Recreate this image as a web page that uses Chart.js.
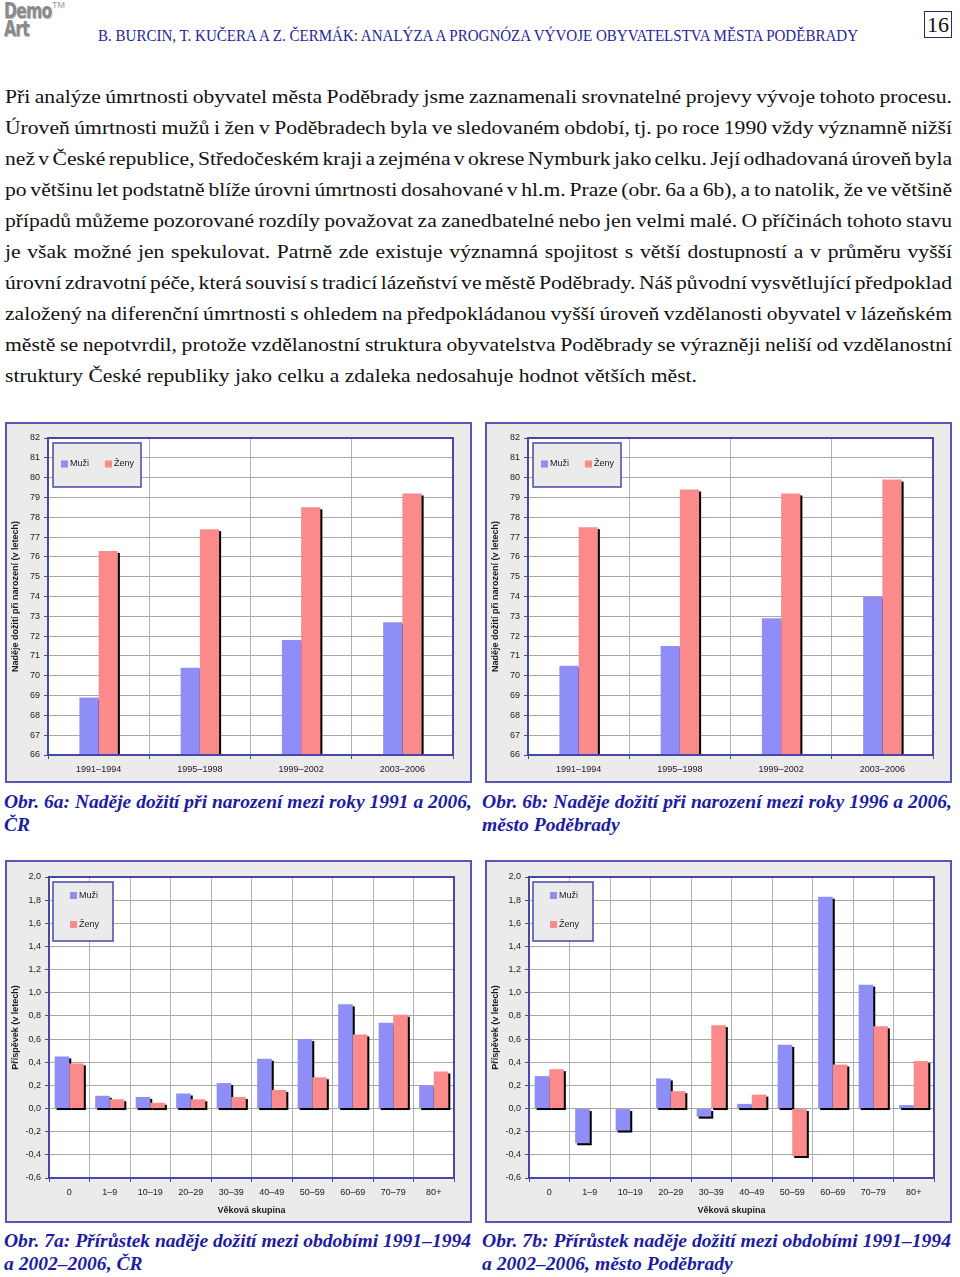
<!DOCTYPE html>
<html>
<head>
<meta charset="utf-8">
<script src="https://cdn.jsdelivr.net/npm/chart.js@4.4.0/dist/chart.umd.min.js"></script>
<style>
  body { margin: 0; width: 960px; height: 1277px; background: #fff; position: relative; overflow: hidden; font-family: "Liberation Serif", serif; }
  .abs { position: absolute; }
  .logo { left: 4px; top: 2px; font: bold 21px "DejaVu Sans", sans-serif; line-height: 18px; color: #8a8a8a; letter-spacing: -1px; text-shadow: 1px 1px 0 #bbb; transform: scaleX(0.74); transform-origin: left top; }
  .tm { left: 52px; top: 0px; font: 9px "Liberation Sans", sans-serif; color: #999; }
  .head { left: 98px; top: 27px; font-size: 16px; line-height: 18px; color: #25259c; white-space: nowrap; transform-origin: left center; }
  .pageno { left: 924px; top: 11px; width: 26px; height: 25px; border: 1px solid #2c2c6c; font-size: 22px; line-height: 25px; text-align: center; color: #111; }
  .para { left: 5px; top: 82px; font-size: 18px; line-height: 31px; color: #111; transform-origin: left top; }
  .ln { white-space: nowrap; height: 31px; }
  .cap { font-weight: bold; font-style: italic; font-size: 19px; line-height: 23px; color: #1c1ca4; white-space: nowrap; transform-origin: left top; }
  .box { position: absolute; border: 2px solid #5858b4; background: #ebebeb; }
  .box canvas { display: block; }
</style>
</head>
<body>
<div class="abs logo">Demo<br>Art</div>
<div class="abs tm">TM</div>
<div class="abs head" id="head">B. BURCIN, T. KUČERA A Z. ČERMÁK: ANALÝZA A PROGNÓZA VÝVOJE OBYVATELSTVA MĚSTA PODĚBRADY</div>
<div class="abs pageno">16</div>

<div class="abs para" id="para">
  <div class="ln"><span>Při analýze úmrtnosti obyvatel města Poděbrady jsme zaznamenali srovnatelné projevy vývoje tohoto procesu.</span></div>
  <div class="ln"><span>Úroveň úmrtnosti mužů i žen v Poděbradech byla ve sledovaném období, tj. po roce 1990 vždy významně nižší</span></div>
  <div class="ln"><span>než v České republice, Středočeském kraji a zejména v okrese Nymburk jako celku. Její odhadovaná úroveň byla</span></div>
  <div class="ln"><span>po většinu let podstatně blíže úrovni úmrtnosti dosahované v hl.m. Praze (obr. 6a a 6b), a to natolik, že ve většině</span></div>
  <div class="ln"><span>případů můžeme pozorované rozdíly považovat za zanedbatelné nebo jen velmi malé. O příčinách tohoto stavu</span></div>
  <div class="ln"><span>je však možné jen spekulovat. Patrně zde existuje významná spojitost s větší dostupností a v průměru vyšší</span></div>
  <div class="ln"><span>úrovní zdravotní péče, která souvisí s tradicí lázeňství ve městě Poděbrady. Náš původní vysvětlující předpoklad</span></div>
  <div class="ln"><span>založený na diferenční úmrtnosti s ohledem na předpokládanou vyšší úroveň vzdělanosti obyvatel v lázeňském</span></div>
  <div class="ln"><span>městě se nepotvrdil, protože vzdělanostní struktura obyvatelstva Poděbrady se výrazněji neliší od vzdělanostní</span></div>
  <div class="ln last"><span>struktury České republiky jako celku a zdaleka nedosahuje hodnot větších měst.</span></div>
</div>

<div class="box" style="left:5px;top:422px;width:463px;height:357px"><canvas id="c6a" width="463" height="357"></canvas></div>
<div class="box" style="left:485px;top:422px;width:463px;height:357px"><canvas id="c6b" width="463" height="357"></canvas></div>
<div class="box" style="left:5px;top:860px;width:463px;height:359px"><canvas id="c7a" width="463" height="359"></canvas></div>
<div class="box" style="left:485px;top:860px;width:463px;height:359px"><canvas id="c7b" width="463" height="359"></canvas></div>

<div class="abs cap" style="left:4px;top:790px" data-w="468"><span>Obr. 6a: Naděje dožití při narození mezi roky 1991 a 2006,</span><br><span>ČR</span></div>
<div class="abs cap" style="left:482px;top:790px" data-w="470"><span>Obr. 6b: Naděje dožití při narození mezi roky 1996 a 2006,</span><br><span>město Poděbrady</span></div>
<div class="abs cap" style="left:4px;top:1229px" data-w="467"><span>Obr. 7a: Přírůstek naděje dožití mezi obdobími 1991–1994</span><br><span>a 2002–2006, ČR</span></div>
<div class="abs cap" style="left:482px;top:1229px" data-w="469"><span>Obr. 7b: Přírůstek naděje dožití mezi obdobími 1991–1994</span><br><span>a 2002–2006, město Poděbrady</span></div>

<script>
// values
const periods = ['1991–1994', '1995–1998', '1999–2002', '2003–2006'];
const crMuzi = [68.9, 70.4, 71.8, 72.7];
const crZeny = [76.3, 77.4, 78.5, 79.2];
const pdMuzi = [70.5, 71.5, 72.9, 74.0];
const pdZeny = [77.5, 79.4, 79.2, 79.9];

const ageGroups = ['0', '1–9', '10–19', '20–29', '30–39', '40–49', '50–59', '60–69', '70–79', '80+'];
const crPrirMuzi = [0.45, 0.11, 0.10, 0.13, 0.22, 0.43, 0.60, 0.90, 0.74, 0.20];
const crPrirZeny = [0.39, 0.08, 0.05, 0.08, 0.10, 0.16, 0.27, 0.64, 0.81, 0.32];
const pdPrirMuzi = [0.28, -0.30, -0.19, 0.26, -0.07, 0.04, 0.55, 1.83, 1.07, 0.03];
const pdPrirZeny = [0.34, 0, 0, 0.15, 0.72, 0.12, -0.41, 0.38, 0.71, 0.41];

const MUZI = '#8e8ef6';
const ZENY = '#fb8a8a';
const BLUE = '#4848a8';
const FONT = '"Liberation Sans", Arial, sans-serif';

// grey frame, white plot, bar drop shadows, plot border and the boxed legend
const frame = {
  id: 'frame',
  beforeDraw(chart) {
    const { ctx, chartArea: a, width, height } = chart;
    ctx.save();
    ctx.fillStyle = '#ebebeb';
    ctx.fillRect(0, 0, width, height);
    ctx.fillStyle = '#fff';
    ctx.fillRect(a.left, a.top, a.right - a.left, a.bottom - a.top);
    ctx.restore();
  },
  beforeDatasetsDraw(chart) {
    const { ctx, chartArea: a } = chart;
    ctx.save();
    ctx.beginPath();
    ctx.rect(a.left, a.top, a.right - a.left, a.bottom - a.top);
    ctx.clip();
    ctx.fillStyle = '#000';
    chart.data.datasets.forEach((ds, i) => {
      chart.getDatasetMeta(i).data.forEach(el => {
        const p = el.getProps(['x', 'y', 'base', 'width'], true);
        const top = Math.min(p.y, p.base), h = Math.abs(p.base - p.y);
        if (h > 0.5) ctx.fillRect(p.x - p.width / 2 + 2, top + 2, p.width, h);
      });
    });
    ctx.restore();
  },
  afterDatasetsDraw(chart, args, opts) {
    const { ctx, chartArea: a } = chart;
    ctx.save();
    ctx.strokeStyle = BLUE;
    ctx.lineWidth = 2;
    ctx.strokeRect(a.left, a.top, a.right - a.left, a.bottom - a.top);
    const lg = opts.box;
    if (lg) {
      const x0 = a.left + lg.x, y0 = a.top + lg.y;
      ctx.fillStyle = '#ebebeb';
      ctx.fillRect(x0, y0, lg.w, lg.h);
      ctx.lineWidth = 1.5;
      ctx.strokeRect(x0, y0, lg.w, lg.h);
      ctx.font = '9px ' + FONT;
      ctx.textBaseline = 'middle';
      chart.data.datasets.forEach((ds, i) => {
        const [dx, dy] = lg.items[i];
        ctx.fillStyle = ds.backgroundColor;
        ctx.fillRect(x0 + dx, y0 + dy - 3.5, 7, 7);
        ctx.fillStyle = '#1a1a1a';
        ctx.fillText(ds.label, x0 + dx + 9, y0 + dy);
      });
    }
    ctx.restore();
  }
};

function barChart(id, labels, muzi, zeny, cfg) {
  return new Chart(document.getElementById(id), {
    type: 'bar',
    data: {
      labels: labels,
      datasets: [
        { label: 'Muži', data: muzi, backgroundColor: MUZI, borderWidth: 0, categoryPercentage: cfg.cat, barPercentage: 1 },
        { label: 'Ženy', data: zeny, backgroundColor: ZENY, borderWidth: 0, categoryPercentage: cfg.cat, barPercentage: 1 }
      ]
    },
    options: {
      responsive: false,
      animation: false,
      events: [],
      layout: { padding: { top: cfg.top, right: cfg.right, left: 0, bottom: 0 } },
      plugins: {
        legend: { display: false },
        tooltip: { enabled: false },
        frame: { box: cfg.legend }
      },
      scales: {
        x: {
          grid: { offset: true, color: '#b2b2b2', tickColor: BLUE, tickLength: 4 },
          border: { display: false },
          ticks: { color: '#1a1a1a', font: { family: FONT, size: 9 }, padding: 5, maxRotation: 0, autoSkip: false },
          title: cfg.xTitle
            ? { display: true, text: cfg.xTitle, color: '#1a1a1a', font: { family: FONT, size: 9, weight: 'bold' }, padding: { top: 0, bottom: 5.5 } }
            : { display: false },
          afterFit(s) { s.height = cfg.xh; }
        },
        y: {
          min: cfg.min,
          max: cfg.max,
          grid: { color: '#a8a8a8', tickColor: BLUE, tickLength: 4 },
          border: { display: false },
          ticks: { stepSize: cfg.step, color: '#1a1a1a', font: { family: FONT, size: 9 }, padding: 4, autoSkip: false, callback: cfg.fmt },
          title: { display: true, text: cfg.yTitle, color: '#1a1a1a', font: { family: FONT, size: 9, weight: 'bold' }, padding: { top: 3, bottom: 0 } },
          afterFit(s) { s.width = cfg.yw; }
        }
      }
    },
    plugins: [frame]
  });
}

const cfg6 = {
  cat: 0.38, top: 14, right: 17, yw: 41, xh: 26,
  min: 66, max: 82, step: 1, fmt: v => String(v),
  yTitle: 'Naděje dožití při narození (v letech)',
  legend: { x: 5, y: 5, w: 88, h: 44, items: [[8, 21], [52, 21]] }
};
const cfg7 = {
  cat: 0.72, top: 15, right: 16, yw: 42, xh: 43,
  min: -0.6, max: 2.0, step: 0.2, fmt: v => v.toFixed(1).replace('.', ','),
  yTitle: 'Příspěvek (v letech)', xTitle: 'Věková skupina',
  legend: { x: 4, y: 5, w: 60, h: 59, items: [[17, 13.5], [17, 42.5]] }
};

barChart('c6a', periods, crMuzi, crZeny, cfg6);
barChart('c6b', periods, pdMuzi, pdZeny, cfg6);
barChart('c7a', ageGroups, crPrirMuzi, crPrirZeny, cfg7);
barChart('c7b', ageGroups, pdPrirMuzi, pdPrirZeny, cfg7);

// the scanned text is stretched sideways: scale the block so the last line
// is as long as in the page, then justify the other lines to the column
const para = document.getElementById('para');
const spans = [...para.querySelectorAll('.ln span')];
const widths = spans.map(sp => sp.getBoundingClientRect().width);
const sx = 692 / widths[widths.length - 1];
const inner = 947 / sx;
spans.forEach((sp, i) => {
  if (i === spans.length - 1) return;
  const n = (sp.textContent.match(/ /g) || []).length;
  sp.style.wordSpacing = ((inner - widths[i]) / n) + 'px';
});
para.style.width = inner + 'px';
para.style.transform = 'scaleX(' + sx + ')';

// condensed caption / header fonts
document.querySelectorAll('.cap').forEach(c => {
  const w = c.firstElementChild.getBoundingClientRect().width;
  c.style.transform = 'scaleX(' + (Number(c.dataset.w) / w) + ')';
});
const head = document.getElementById('head');
head.style.transform = 'scaleX(' + (760 / head.getBoundingClientRect().width) + ')';
</script>
</body>
</html>
